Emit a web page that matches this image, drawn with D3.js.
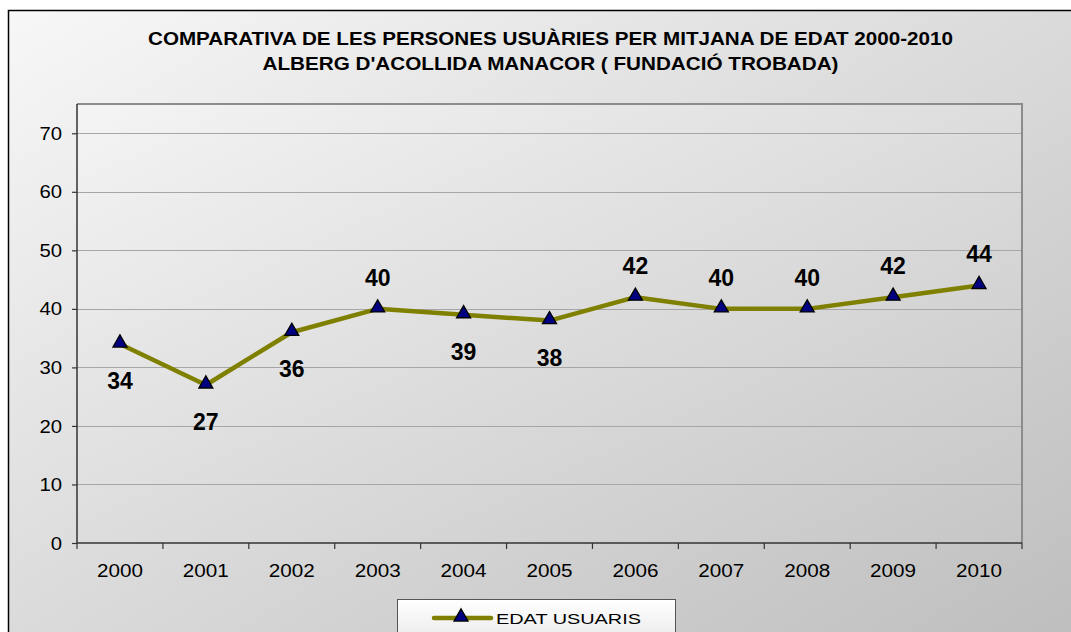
<!DOCTYPE html>
<html>
<head>
<meta charset="utf-8">
<script src="https://cdn.jsdelivr.net/npm/d3@7"></script>
<style>
  html, body { margin: 0; padding: 0; background: #ffffff; }
  svg { display: block; font-family: "Liberation Sans", Arial, sans-serif; }
</style>
</head>
<body>
<svg id="chart" width="1071" height="632"></svg>
<script>
// Average age of shelter users per year
const years = ["2000", "2001", "2002", "2003", "2004", "2005", "2006", "2007", "2008", "2009", "2010"];
const edatUsuaris = [34, 27, 36, 40, 39, 38, 42, 40, 40, 42, 44];
// Which side of the point each value label sits on
const labelSide = ["below", "below", "below", "above", "below", "below", "above", "above", "above", "above", "above"];
const yTicks = [0, 10, 20, 30, 40, 50, 60, 70];
const titleLines = [
  "COMPARATIVA DE LES PERSONES USUÀRIES PER MITJANA DE EDAT 2000-2010",
  "ALBERG D'ACOLLIDA MANACOR ( FUNDACIÓ TROBADA)"
];
const seriesName = "EDAT USUARIS";

const W = 1071, H = 632;
const plot = { left: 77, top: 104, right: 1022, bottom: 543 };

const svg = d3.select("#chart");
const defs = svg.append("defs");

const bgGrad = defs.append("linearGradient").attr("id", "bgGrad")
  .attr("x1", "0%").attr("y1", "0%").attr("x2", "100%").attr("y2", "100%");
bgGrad.append("stop").attr("offset", "0%").attr("stop-color", "#f7f7f7");
bgGrad.append("stop").attr("offset", "100%").attr("stop-color", "#bdbdbd");

const plotGrad = defs.append("linearGradient").attr("id", "plotGrad")
  .attr("x1", "0%").attr("y1", "0%").attr("x2", "100%").attr("y2", "100%");
plotGrad.append("stop").attr("offset", "0%").attr("stop-color", "#f4f4f4");
plotGrad.append("stop").attr("offset", "100%").attr("stop-color", "#c6c6c6");

const legendGrad = defs.append("linearGradient").attr("id", "legendGrad")
  .attr("x1", "0%").attr("y1", "0%").attr("x2", "0%").attr("y2", "100%");
legendGrad.append("stop").attr("offset", "0%").attr("stop-color", "#ffffff");
legendGrad.append("stop").attr("offset", "100%").attr("stop-color", "#e6e6e6");

// Chart area with its frame
svg.append("rect")
  .attr("x", 8.5).attr("y", 10.5)
  .attr("width", W + 10).attr("height", H + 10)
  .attr("fill", "url(#bgGrad)")
  .attr("stroke", "#000").attr("stroke-width", 1.5);

// Title
svg.append("g").selectAll("text")
  .data(titleLines)
  .join("text")
  .attr("x", 550.5)
  .attr("y", (d, i) => 45 + i * 25)
  .attr("text-anchor", "middle")
  .attr("font-size", 17.5)
  .attr("font-weight", "bold")
  .attr("fill", "#000")
  .attr("textLength", (d, i) => i === 0 ? 805 : 576)
  .attr("lengthAdjust", "spacingAndGlyphs")
  .text(d => d);

// Scales
const x = d3.scaleBand().domain(years).range([plot.left, plot.right]).paddingInner(0).paddingOuter(0);
const y = d3.scaleLinear().domain([0, 75]).range([plot.bottom, plot.top]);

// Plot area background
svg.append("rect")
  .attr("x", plot.left).attr("y", plot.top)
  .attr("width", plot.right - plot.left).attr("height", plot.bottom - plot.top)
  .attr("fill", "url(#plotGrad)");

// Horizontal gridlines
svg.append("g").selectAll("line")
  .data(yTicks.filter(t => t > 0))
  .join("line")
  .attr("x1", plot.left).attr("x2", plot.right)
  .attr("y1", d => Math.round(y(d)) + 0.5).attr("y2", d => Math.round(y(d)) + 0.5)
  .attr("stroke", "#a6a6a6").attr("stroke-width", 1);

// Plot area frame: top and right edges
svg.append("path")
  .attr("d", `M${plot.left},${plot.top} H${plot.right} V${plot.bottom}`)
  .attr("fill", "none").attr("stroke", "#8c8c8c").attr("stroke-width", 2);

// Y axis
const yAxis = svg.append("g")
  .attr("transform", `translate(${plot.left},0)`)
  .call(d3.axisLeft(y).tickValues(yTicks).tickSize(5).tickPadding(10).tickFormat(d3.format("d")));
yAxis.select(".domain").attr("stroke", "#333").attr("stroke-width", 1.5)
  .attr("d", `M0,${plot.top}V${plot.bottom}`);
yAxis.selectAll(".tick line").attr("stroke", "#333").attr("stroke-width", 1.2);
yAxis.selectAll(".tick text").attr("font-size", 19).attr("fill", "#000")
  .attr("font-family", "Liberation Sans, Arial, sans-serif")
  .attr("textLength", d => String(d).length * 11.3)
  .attr("lengthAdjust", "spacingAndGlyphs");

// X axis with ticks on category boundaries
const xAxisG = svg.append("g").attr("transform", `translate(0,${plot.bottom})`);
xAxisG.append("line")
  .attr("x1", plot.left).attr("x2", plot.right)
  .attr("stroke", "#333").attr("stroke-width", 1.5);
const boundaries = years.map(d => x(d)).concat([x(years[years.length - 1]) + x.bandwidth()]);
xAxisG.selectAll("line.tick")
  .data(boundaries)
  .join("line").attr("class", "tick")
  .attr("x1", d => d).attr("x2", d => d)
  .attr("y1", 0).attr("y2", 6)
  .attr("stroke", "#333").attr("stroke-width", 1.2);
xAxisG.selectAll("text")
  .data(years)
  .join("text")
  .attr("x", d => x(d) + x.bandwidth() / 2)
  .attr("y", 34)
  .attr("text-anchor", "middle")
  .attr("font-size", 18)
  .attr("textLength", 46)
  .attr("lengthAdjust", "spacingAndGlyphs")
  .attr("fill", "#000")
  .text(d => d);

// Series line
const cx = (d, i) => x(years[i]) + x.bandwidth() / 2;
const line = d3.line().x((d, i) => cx(d, i)).y(d => y(d));
svg.append("path")
  .datum(edatUsuaris)
  .attr("d", line)
  .attr("fill", "none")
  .attr("stroke", "#808000")
  .attr("stroke-width", 4.5)
  .attr("stroke-linejoin", "round");

// Triangle markers
const tri = d3.symbol().type(d3.symbolTriangle).size(85);
svg.append("g").selectAll("path")
  .data(edatUsuaris)
  .join("path")
  .attr("d", tri)
  .attr("transform", (d, i) => `translate(${cx(d, i)},${y(d) - 1})`)
  .attr("fill", "#000080")
  .attr("stroke", "#000")
  .attr("stroke-width", 1.3);

// Value labels
svg.append("g").selectAll("text")
  .data(edatUsuaris)
  .join("text")
  .attr("x", (d, i) => cx(d, i))
  .attr("y", (d, i) => labelSide[i] === "above" ? y(d) - 23 : y(d) + 45)
  .attr("text-anchor", "middle")
  .attr("font-size", 23)
  .attr("font-weight", "bold")
  .attr("fill", "#000")
  .text(d => d);

// Legend
const legend = svg.append("g");
legend.append("rect")
  .attr("x", 397.5).attr("y", 599.5)
  .attr("width", 278).attr("height", 50)
  .attr("fill", "url(#legendGrad)")
  .attr("stroke", "#555").attr("stroke-width", 1);
legend.append("line")
  .attr("x1", 434).attr("x2", 491).attr("y1", 618).attr("y2", 618)
  .attr("stroke", "#808000").attr("stroke-width", 4.5).attr("stroke-linecap", "round");
legend.append("path")
  .attr("d", tri)
  .attr("transform", "translate(461,617)")
  .attr("fill", "#000080").attr("stroke", "#000").attr("stroke-width", 1.3);
legend.append("text")
  .attr("x", 496).attr("y", 624)
  .attr("font-size", 15.5)
  .attr("textLength", 145)
  .attr("lengthAdjust", "spacingAndGlyphs")
  .attr("fill", "#000")
  .text(seriesName);
</script>
</body>
</html>
